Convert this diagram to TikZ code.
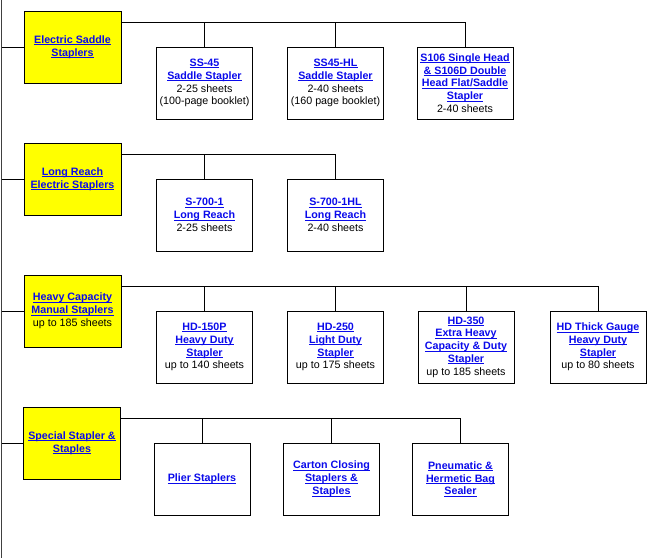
\documentclass[tikz,border=0pt]{standalone}
\usepackage{fontspec}
\setmainfont{Liberation Sans}
\definecolor{linkblue}{RGB}{10,10,235}
\definecolor{catyellow}{RGB}{255,255,0}
\newcommand\lk[1]{{\color{linkblue}\bfseries\setbox0\hbox{#1}\rlap{\rule[-1.7pt]{\wd0}{0.7pt}}\box0}}
\tikzset{
  catbox/.style={draw, line width=1pt, fill=catyellow, minimum width=97pt, minimum height=72pt, align=center, inner sep=1pt, font=\fontsize{10.7}{12.8}\selectfont},
  itembox/.style={draw, line width=1pt, fill=white, minimum width=96pt, minimum height=72pt, align=center, inner sep=1pt, font=\fontsize{10.7}{12.8}\selectfont},
  link/.style={line width=1pt}
}
\begin{document}
\begin{tikzpicture}[x=1pt,y=1pt]

  \useasboundingbox (0,0) rectangle (671,-558);

  \coordinate (T0) at (1.5,0);
  \coordinate (T1) at (1.5,-558);

  % Draw trunk
  \draw [line width=1pt, black!75] (T0) -- (T1);

  % Categories
  \node [catbox] (C1) at (72.5,-47) {\lk{Electric Saddle}\\\lk{Staplers}};
  \node [catbox] (C2) at (72.5,-179) {\lk{Long Reach}\\\lk{Electric Staplers}};
  \node [catbox] (C3) at (72.5,-311) {\lk{Heavy Capacity}\\\lk{Manual Staplers}\\up to 185 sheets};
  \node [catbox] (C4) at (72,-443) {\lk{Special Stapler \&}\\\lk{Staples}};

  % Row 1
  \node [itembox] (S1) at (204.5,-83) {\lk{SS-45}\\\lk{Saddle Stapler}\\2-25 sheets\\(100-page booklet)};
  \node [itembox] (S2) at (335.5,-83) {\lk{SS45-HL}\\\lk{Saddle Stapler}\\2-40 sheets\\(160 page booklet)};
  \node [itembox] (S3) at (465,-83) {\lk{S106 Single Head}\\\lk{\& S106D Double}\\\lk{Head Flat/Saddle}\\\lk{Stapler}\\2-40 sheets};

  % Row 2
  \node [itembox] (L1) at (204.5,-215) {\lk{S-700-1}\\\lk{Long Reach}\\2-25 sheets};
  \node [itembox] (L2) at (335.5,-215) {\lk{S-700-1HL}\\\lk{Long Reach}\\2-40 sheets};

  % Row 3
  \node [itembox] (H1) at (204.5,-347) {\lk{HD-150P}\\\lk{Heavy Duty}\\\lk{Stapler}\\up to 140 sheets};
  \node [itembox] (H2) at (335.5,-347) {\lk{HD-250}\\\lk{Light Duty}\\\lk{Stapler}\\up to 175 sheets};
  \node [itembox] (H3) at (466,-347) {\lk{HD-350}\\\lk{Extra Heavy}\\\lk{Capacity \& Duty}\\\lk{Stapler}\\up to 185 sheets};
  \node [itembox] (H4) at (598,-347) {\lk{HD Thick Gauge}\\\lk{Heavy Duty}\\\lk{Stapler}\\up to 80 sheets};

  % Row 4
  \node [itembox] (P1) at (202,-479) {\lk{Plier Staplers}};
  \node [itembox] (P2) at (331.5,-479) {\lk{Carton Closing}\\\lk{Staplers \&}\\\lk{Staples}};
  \node [itembox] (P3) at (460.5,-479) {\lk{Pneumatic \&}\\\lk{Hermetic Bag}\\\lk{Sealer}};

  % Bus coordinates
  \coordinate (B1) at ([yshift=-12pt]C1.north east);
  \coordinate (B2) at ([yshift=-12pt]C2.north east);
  \coordinate (B3) at ([yshift=-12pt]C3.north east);
  \coordinate (B4) at ([yshift=-12pt]C4.north east);

  % Draw stubs
  \draw [link] (C1.west -| T0) -- (C1.west);
  \draw [link] (C2.west -| T0) -- (C2.west);
  \draw [link] (C3.west -| T0) -- (C3.west);
  \draw [link] (C4.west -| T0) -- (C4.west);

  % Draw buses
  \draw [link] (B1) -| (S3.north);
  \draw [link] (S1.north) -- (S1.north |- B1);
  \draw [link] (S2.north) -- (S2.north |- B1);

  \draw [link] (B2) -| (L2.north);
  \draw [link] (L1.north) -- (L1.north |- B2);

  \draw [link] (B3) -| (H4.north);
  \draw [link] (H1.north) -- (H1.north |- B3);
  \draw [link] (H2.north) -- (H2.north |- B3);
  \draw [link] (H3.north) -- (H3.north |- B3);

  \draw [link] (B4) -| (P3.north);
  \draw [link] (P1.north) -- (P1.north |- B4);
  \draw [link] (P2.north) -- (P2.north |- B4);

\end{tikzpicture}
\end{document}
